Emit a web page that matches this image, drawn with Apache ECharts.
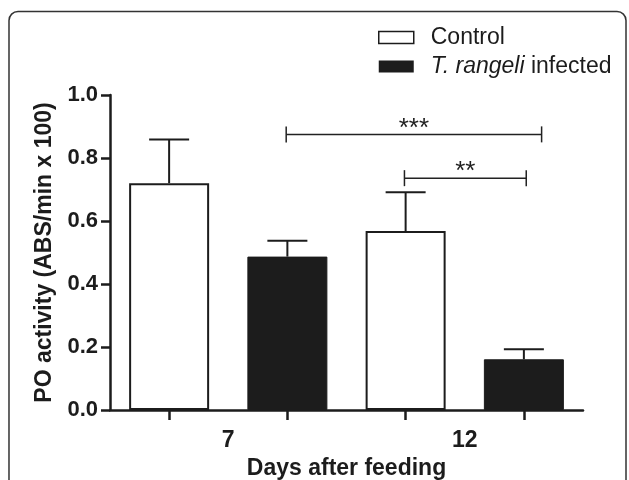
<!DOCTYPE html>
<html><head><meta charset="utf-8">
<script src="https://cdn.jsdelivr.net/npm/echarts@6/dist/echarts.min.js"></script>
<style>html,body{margin:0;padding:0;background:#fff}#c{width:629px;height:480px}</style>
</head><body><div id="c"></div>
<script>
const days = ['7', '12'];
const seriesNames = ['Control', 'T. rangeli infected'];
const controlMean = [0.72, 0.568];
const controlUpper = [0.859, 0.691];
const infectedMean = [0.487, 0.161];
const infectedUpper = [0.537, 0.193];
const yMin = 0, yMax = 1.0, yStep = 0.2;
// significance brackets: from/to in bar-slot units (0..3), height in y units
const bracketFrom = [0.99, 1.99];
const bracketTo = [3.15, 3.02];
const bracketY = [0.875, 0.736];
const bracketLabel = ['***', '**'];

const FONT = 'Liberation Sans, Arial, sans-serif';
const INK = '#1c1c1c';
const FS = 23;

// build slot arrays (control, infected alternating per day)
const slots = [];
const controlSlots = [], infectedSlots = [], errData = [];
days.forEach((d, i) => {
  slots.push(d + '-c', d + '-i');
  controlSlots.push(controlMean[i], '-');
  infectedSlots.push('-', infectedMean[i]);
  errData.push([2 * i, controlMean[i], controlUpper[i]]);
  errData.push([2 * i + 1, infectedMean[i], infectedUpper[i]]);
});
const bracketData = bracketFrom.map((f, i) => [f, bracketTo[i], bracketY[i]]);

const chart = echarts.init(document.getElementById('c'), null, {renderer: 'canvas'});
chart.setOption({
  animation: false,
  backgroundColor: '#fff',
  graphic: [{
    type: 'rect', shape: {x: 9, y: 11.5, width: 617, height: 520, r: 9},
    style: {fill: 'none', stroke: '#333', lineWidth: 1.5}, z: 0
  }],
  grid: {left: 110, right: 46, top: 95, bottom: 70, containLabel: false, outerBoundsMode: 'none'},
  legend: {
    orient: 'vertical', left: 373, top: 21, itemWidth: 35, itemHeight: 12, itemGap: 6,
    selectedMode: false, icon: 'rect',
    data: [
      {name: seriesNames[0], itemStyle: {color: '#fff', borderColor: INK, borderWidth: 1.5}},
      {name: seriesNames[1], itemStyle: {color: INK, borderWidth: 0}}
    ],
    formatter: n => n === seriesNames[1] ? '{i|T. rangeli} infected' : n,
    textStyle: {
      fontFamily: FONT, fontSize: FS, color: INK, padding: [0, 0, 0, 12],
      rich: {i: {fontStyle: 'italic', fontSize: FS, fontFamily: FONT, color: INK}}
    }
  },
  xAxis: [
    {
      type: 'category', data: slots, gridIndex: 0,
      axisLine: {onZero: false, lineStyle: {color: INK, width: 2.5}},
      axisTick: {show: true, alignWithLabel: true, interval: 0, length: 10, lineStyle: {color: INK, width: 2.5}},
      axisLabel: {show: true, interval: 0, formatter: () => ''}, splitLine: {show: false}
    },
    {
      type: 'category', data: days, gridIndex: 0, position: 'bottom',
      axisLine: {show: false, onZero: false}, axisTick: {show: false},
      axisLabel: {fontFamily: FONT, fontWeight: 'bold', fontSize: FS, color: INK, margin: 19},
      name: 'Days after feeding', nameLocation: 'middle', nameGap: 47,
      nameTextStyle: {fontFamily: FONT, fontWeight: 'bold', fontSize: FS, color: INK}
    },
    {type: 'value', min: -0.5, max: 3.5, show: false, gridIndex: 0}
  ],
  yAxis: {
    type: 'value', min: yMin, max: yMax, interval: yStep,
    axisLine: {show: true, onZero: false, lineStyle: {color: INK, width: 2.5}},
    axisTick: {show: true, length: 9, lineStyle: {color: INK, width: 2.5}},
    axisLabel: {fontFamily: FONT, fontWeight: 'bold', fontSize: 22, color: INK, margin: 12,
      formatter: v => v.toFixed(1)},
    splitLine: {show: false},
    name: 'PO activity (ABS/min x 100)', nameLocation: 'middle', nameGap: 54,
    nameTextStyle: {fontFamily: FONT, fontWeight: 'bold', fontSize: FS, color: INK}
  },
  series: [
    {
      name: seriesNames[0], type: 'bar', xAxisIndex: 0, data: controlSlots,
      barWidth: 80, barGap: '-100%',
      itemStyle: {color: '#fff', borderColor: INK, borderWidth: 2}
    },
    {
      name: seriesNames[1], type: 'bar', xAxisIndex: 0, data: infectedSlots,
      barWidth: 80, barGap: '-100%',
      itemStyle: {color: INK, borderColor: INK, borderWidth: 1}
    },
    {
      type: 'custom', xAxisIndex: 0, data: errData, z: 5,
      renderItem: (params, api) => {
        const base = api.coord([api.value(0), api.value(1)]);
        const top = api.coord([api.value(0), api.value(2)]);
        const st = {stroke: INK, lineWidth: 2};
        return {type: 'group', children: [
          {type: 'line', shape: {x1: base[0], y1: base[1], x2: top[0], y2: top[1]}, style: st},
          {type: 'line', shape: {x1: top[0] - 20, y1: top[1], x2: top[0] + 20, y2: top[1]}, style: st}
        ]};
      }
    },
    {
      type: 'custom', xAxisIndex: 2, data: bracketData, z: 5, clip: false,
      renderItem: (params, api) => {
        const p1 = api.coord([api.value(0), api.value(2)]);
        const p2 = api.coord([api.value(1), api.value(2)]);
        const st = {stroke: '#222', lineWidth: 1.5};
        return {type: 'group', children: [
          {type: 'line', shape: {x1: p1[0], y1: p1[1], x2: p2[0], y2: p2[1]}, style: st},
          {type: 'line', shape: {x1: p1[0], y1: p1[1] - 8, x2: p1[0], y2: p1[1] + 8}, style: st},
          {type: 'line', shape: {x1: p2[0], y1: p2[1] - 8, x2: p2[0], y2: p2[1] + 8}, style: st},
          {type: 'text', x: (p1[0] + p2[0]) / 2, y: p1[1] - 6,
            style: {text: bracketLabel[params.dataIndex], textAlign: 'center', textVerticalAlign: 'middle',
              fontFamily: FONT, fontSize: 26, fill: '#222'}}
        ]};
      }
    }
  ]
});
</script>
</body></html>
